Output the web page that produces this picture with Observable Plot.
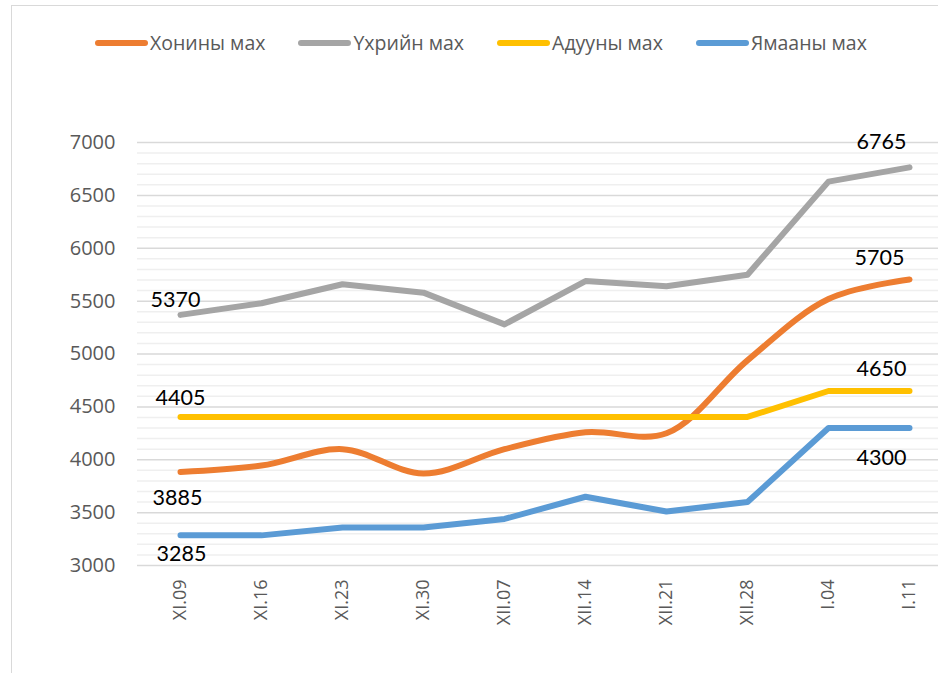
<!DOCTYPE html>
<html>
<head>
<meta charset="utf-8">
<script src="https://cdn.jsdelivr.net/npm/d3@7"></script>
<script src="https://cdn.jsdelivr.net/npm/@observablehq/plot@0.6"></script>
<style>
  html, body { margin: 0; padding: 0; background: #fff; }
  #wrap { position: relative; width: 938px; height: 673px; overflow: hidden; background: #fff; }
  #frame { position: absolute; left: 11px; top: 5px; width: 960px; height: 700px; border: 1.5px solid #d9d9d9; box-sizing: border-box; }
  #legend { position: absolute; left: 95px; top: 29px; display: flex; align-items: center; font-family: "Open Sans", sans-serif; font-size: 19.5px; color: #595959; }
  .item { display: flex; align-items: center; margin-right: 33px; }
  .sw { width: 53px; height: 6px; border-radius: 3px; margin-right: 2px; }
  #chart { position: absolute; left: 0; top: 0; }
</style>
</head>
<body>
<div id="wrap">
  <div id="frame"></div>
  <div id="chart"></div>
  <div id="legend"></div>
</div>
<script>
const categories = ["XI.09","XI.16","XI.23","XI.30","XII.07","XII.14","XII.21","XII.28","I.04","I.11"];
const seriesNames = ["Хонины мах","Үхрийн мах","Адууны мах","Ямааны мах"];
const khoninyMakh = [3885,3945,4100,3870,4100,4260,4250,4940,5520,5705];
const ukhriinMakh = [5370,5480,5660,5580,5280,5690,5640,5750,6630,6765];
const aduunyMakh  = [4405,4405,4405,4405,4405,4405,4405,4405,4650,4650];
const yamaanyMakh = [3285,3285,3360,3360,3440,3650,3510,3600,4300,4300];
const yTicks = [3000,3500,4000,4500,5000,5500,6000,6500,7000];

// styles
const colors = ["#ED7D31","#A5A5A5","#FFC000","#5B9BD5"];
const curves = ["catmull-rom","linear","linear","linear"];
// label offsets [first, last] per series (dx, dy)
const labelOffsets = [
  [[-3, 26], [-30, -21]],
  [[-5, -15], [-28, -25]],
  [[0, -19], [-28, -22]],
  [[1, 19], [-28, 30]]
];

const seriesValues = [khoninyMakh, ukhriinMakh, aduunyMakh, yamaanyMakh];
const rows = seriesNames.map((name, s) => categories.map((c, i) => ({cat: c, value: seriesValues[s][i], series: name})));

const minorTicks = d3.range(yTicks[0], yTicks[yTicks.length - 1] + 1, 100).filter(v => !yTicks.includes(v));

const lineMarks = rows.map((data, s) => Plot.lineY(data, {
  x: "cat", y: "value", stroke: colors[s], strokeWidth: 6,
  curve: curves[s], strokeLinecap: "round", strokeLinejoin: "round"
}));

const labelMarks = [];
rows.forEach((data, s) => {
  [0, data.length - 1].forEach((idx, k) => {
    labelMarks.push(Plot.text([data[idx]], {
      x: "cat", y: "value", text: d => String(d.value),
      dx: labelOffsets[s][k][0], dy: labelOffsets[s][k][1],
      fill: "#000", fontSize: 21.5, fontFamily: "Lato, 'Open Sans', sans-serif"
    }));
  });
});

const chart = Plot.plot({
  width: 938,
  height: 673,
  marginTop: 142,
  marginBottom: 108,
  marginLeft: 137,
  marginRight: 0,
  style: {fontFamily: "'Open Sans', sans-serif", background: "transparent", overflow: "visible"},
  x: {type: "point", domain: categories, range: [178, 910], padding: 0},
  y: {domain: [3000, 7000]},
  marks: [
    Plot.ruleY(minorTicks, {stroke: "#efefef", strokeWidth: 1.5}),
    Plot.ruleY(yTicks, {stroke: "#d9d9d9", strokeWidth: 1.5}),
    Plot.axisY({ticks: yTicks, tickFormat: d3.format("d"), tickSize: 0, tickPadding: 22, fontSize: 20, fill: "#595959", label: null}),
    Plot.axisX({tickRotate: -90, tickSize: 0, tickPadding: 14, fontSize: 18, fill: "#595959", label: null}),
    ...lineMarks,
    ...labelMarks
  ]
});
document.getElementById("chart").appendChild(chart);

const legend = document.getElementById("legend");
seriesNames.forEach((name, s) => {
  const item = document.createElement("div");
  item.className = "item";
  const sw = document.createElement("div");
  sw.className = "sw";
  sw.style.background = colors[s];
  const t = document.createElement("span");
  t.textContent = name;
  item.appendChild(sw);
  item.appendChild(t);
  legend.appendChild(item);
});
</script>
</body>
</html>
